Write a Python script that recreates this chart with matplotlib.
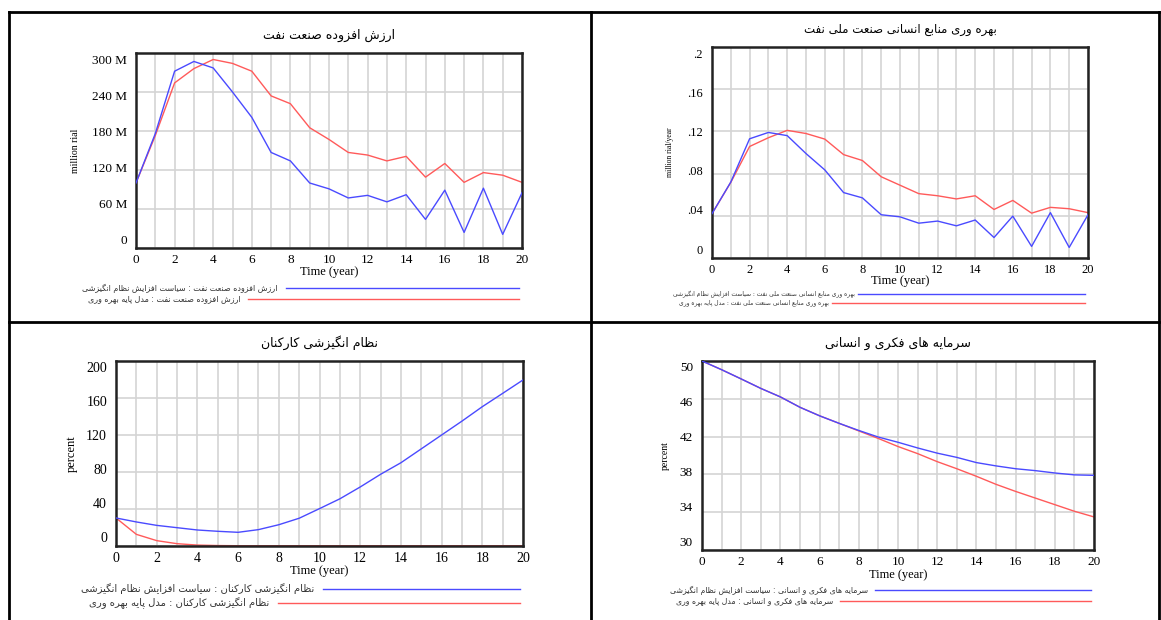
import numpy as np
import matplotlib
matplotlib.use("Agg")
import matplotlib.pyplot as plt
import matplotlib.transforms as mtrans
from matplotlib.lines import Line2D

# ---- data (yearly points) ----
years = np.arange(0, 21)

va_policy = [100, 176, 272, 287, 277, 240, 201, 147, 134, 100, 91, 77, 81, 71, 82, 44, 89, 24, 92, 21, 85]
va_base = [100, 173, 254, 276, 290, 284, 272, 234, 222, 185, 167, 147, 143, 134, 141, 109, 130, 101, 116, 112, 101]

prod_policy = [0.042, 0.072, 0.113, 0.119, 0.116, 0.099, 0.0835, 0.062, 0.057, 0.041, 0.039, 0.033, 0.035,
               0.0305, 0.036, 0.0194, 0.0397, 0.011, 0.043, 0.010, 0.041]
prod_base = [0.042, 0.0717, 0.1057, 0.114, 0.121, 0.118, 0.1127, 0.098, 0.0924, 0.077, 0.069, 0.061, 0.059,
             0.056, 0.059, 0.046, 0.0546, 0.0425, 0.048, 0.0467, 0.043]

motiv_policy = [30.3, 26, 22.3, 19.8, 17.3, 15.9, 14.8, 17.7, 23, 30, 40.4, 51, 63.8, 77.5, 90, 105, 120,
                135, 150.6, 165, 179.5]
motiv_base = [30.3, 12.6, 5.8, 2.5, 1.0, 0.5, 0.3, 0.3, 0.3, 0.3, 0.3, 0.3, 0.3, 0.3, 0.3, 0.3, 0.3, 0.3,
              0.3, 0.3, 0.3]

cap_policy = [50.0, 49.08, 48.1, 47.1, 46.2, 45.1, 44.2, 43.4, 42.65, 41.95, 41.4, 40.8, 40.25, 39.8, 39.25,
              38.9, 38.6, 38.4, 38.15, 37.95, 37.9]
cap_base = [50.0, 49.08, 48.1, 47.1, 46.2, 45.1, 44.2, 43.4, 42.6, 41.8, 40.95, 40.2, 39.35, 38.6, 37.8,
            36.95, 36.2, 35.5, 34.8, 34.1, 33.5]

va_ticks = [0, 60, 120, 180, 240, 300]
va_labels = ["0", "60 M", "120 M", "180 M", "240 M", "300 M"]
prod_ticks = [0, 0.04, 0.08, 0.12, 0.16, 0.2]
prod_labels = ["0", ".04", ".08", ".12", ".16", ".2"]
motiv_ticks = [0, 40, 80, 120, 160, 200]
cap_ticks = [30, 34, 38, 42, 46, 50]

t_va = "ارزش افزوده صنعت نفت"
t_prod = "بهره وری منابع انسانی صنعت ملی نفت"
t_motiv = "نظام انگیزشی کارکنان"
t_cap = "سرمایه های فکری و انسانی"
s_policy = "سیاست افزایش نظام انگیزشی"
s_base = "مدل پایه بهره وری"

# ---- minimal persian shaping (matplotlib has no complex text layout) ----
FORMS = {
    'ا': (0xFE8D, 0xFE8E, None, None), 'ب': (0xFE8F, 0xFE90, 0xFE91, 0xFE92),
    'پ': (0xFB56, 0xFB57, 0xFB58, 0xFB59), 'ت': (0xFE95, 0xFE96, 0xFE97, 0xFE98),
    'د': (0xFEA9, 0xFEAA, None, None), 'ر': (0xFEAD, 0xFEAE, None, None),
    'ز': (0xFEAF, 0xFEB0, None, None), 'س': (0xFEB1, 0xFEB2, 0xFEB3, 0xFEB4),
    'ش': (0xFEB5, 0xFEB6, 0xFEB7, 0xFEB8), 'ص': (0xFEB9, 0xFEBA, 0xFEBB, 0xFEBC),
    'ظ': (0xFEC5, 0xFEC6, 0xFEC7, 0xFEC8), 'ع': (0xFEC9, 0xFECA, 0xFECB, 0xFECC),
    'ف': (0xFED1, 0xFED2, 0xFED3, 0xFED4), 'ک': (0xFB8E, 0xFB8F, 0xFB90, 0xFB91),
    'گ': (0xFB92, 0xFB93, 0xFB94, 0xFB95), 'ل': (0xFEDD, 0xFEDE, 0xFEDF, 0xFEE0),
    'م': (0xFEE1, 0xFEE2, 0xFEE3, 0xFEE4), 'ن': (0xFEE5, 0xFEE6, 0xFEE7, 0xFEE8),
    'ه': (0xFEE9, 0xFEEA, 0xFEEB, 0xFEEC), 'و': (0xFEED, 0xFEEE, None, None),
    'ی': (0xFBFC, 0xFBFD, 0xFBFE, 0xFBFF),
}


def fa(text):
    out = []
    for i, ch in enumerate(text):
        if ch not in FORMS:
            out.append(ch)
            continue
        iso, fin, ini, med = FORMS[ch]
        prev = text[i - 1] if i > 0 else ''
        nxt = text[i + 1] if i + 1 < len(text) else ''
        jp = prev in FORMS and FORMS[prev][2] is not None
        jn = nxt in FORMS and ini is not None
        if jp and jn:
            c = med
        elif jp:
            c = fin
        elif jn:
            c = ini
        else:
            c = iso
        out.append(chr(c))
    return ''.join(reversed(out))


W, H = 1161, 620
BLUE = "#4a4aff"
RED = "#ff5a5a"
SERIF = "Liberation Serif"
FA = ["DejaVu Sans"]

fig = plt.figure(figsize=(W / 100, H / 100), dpi=100)


def fx(x):
    return x / W


def fy(y):
    return 1 - y / H


def panel(box, blue, red, ylim, ticks, labels, title, ylabel, ylab_x, tick_fs, title_fs, ylab_fs,
          xlab_y, leg, leg_fs):
    l, t, r, b = box
    ax = fig.add_axes([fx(l), fy(b), (r - l) / W, (b - t) / H])
    ax.plot(years, blue, color=BLUE, lw=1.0, zorder=3)
    ax.plot(years, red, color=RED, lw=1.0, zorder=2)
    ax.set_xlim(0, 20)
    ax.set_ylim(*ylim)
    ax.set_xticks(range(0, 21, 2))
    ax.set_xticks(range(0, 21), minor=True)
    ax.set_yticks(ticks)
    ax.set_yticklabels([])
    ax.grid(True, which="both", axis="x", color="#d4d4d4", lw=1.2)
    ax.grid(True, axis="y", color="#d4d4d4", lw=1.2)
    ax.set_axisbelow(True)
    ax.tick_params(which="both", length=0, labelsize=tick_fs, pad=4)
    for lab in ax.get_xticklabels():
        lab.set_fontfamily(SERIF)
    # y labels squeezed toward the middle, the way the simulation tool prints them
    for v, s in zip(ticks, labels):
        frac = (v - ylim[0]) / (ylim[1] - ylim[0])
        off = mtrans.ScaledTranslation(-0.09, (0.5 - frac) * 0.15, fig.dpi_scale_trans)
        ax.text(0, v, s, transform=ax.get_yaxis_transform() + off, family=SERIF,
                fontsize=tick_fs, ha="right", va="center")
    for sp in ax.spines.values():
        sp.set_linewidth(1.8)
        sp.set_color("#222222")
    fig.text(fx((l + r) / 2), fy(t - 18), fa(title), family=FA, fontsize=title_fs,
             ha="center", va="center")
    fig.text(fx(ylab_x), fy((t + b) / 2), ylabel, family=SERIF, fontsize=ylab_fs,
             rotation=90, ha="center", va="center")
    fig.text(fx((l + r) / 2), fy(xlab_y), "Time (year)", family=SERIF, fontsize=9,
             ha="center", va="center")
    # legend drawn like the source tool: text, then a long line to the right
    for (txt, col, x_txt, x_line, y) in leg:
        fig.text(fx(x_txt), fy(y), fa(txt), family=FA, fontsize=leg_fs, color="#333333",
                 ha="right", va="center")
        fig.add_artist(Line2D([fx(x_line), fx(r - 3)], [fy(y), fy(y)], color=col, lw=1.0))
    return ax


panel((136, 53, 522, 248), va_policy, va_base, (0, 300), va_ticks, va_labels,
      t_va, "million rial", 75, 9.5, 9, 7, 272,
      [(t_va + " : " + s_policy, BLUE, 278, 286, 288),
       (t_va + " : " + s_base, RED, 241, 248, 299)], 5.8)

panel((712, 47, 1088, 258), prod_policy, prod_base, (0, 0.2), prod_ticks, prod_labels,
      t_prod, "million rial/year", 670, 9, 8.5, 5.5, 281,
      [(t_prod + " : " + s_policy, BLUE, 855, 858, 294),
       (t_prod + " : " + s_base, RED, 829, 832, 303)], 4.3)

panel((116, 361, 523, 546), motiv_policy, motiv_base, (0, 200), motiv_ticks,
      [str(v) for v in motiv_ticks], t_motiv, "percent", 72, 10, 9, 9, 571,
      [(t_motiv + " : " + s_policy, BLUE, 314, 323, 589),
       (t_motiv + " : " + s_base, RED, 269, 278, 603)], 7.2)

panel((702, 361, 1094, 550), cap_policy, cap_base, (30, 50), cap_ticks,
      [str(v) for v in cap_ticks], t_cap, "percent", 665, 9.5, 9, 7, 575,
      [(t_cap + " : " + s_policy, BLUE, 868, 875, 590),
       (t_cap + " : " + s_base, RED, 833, 840, 601)], 5.6)

# table borders around the four cells
for xs, ys in [((9, 1159), (12, 12)), ((9, 1159), (322, 322)), ((9, 9), (12, 620)),
               ((591, 591), (12, 620)), ((1159, 1159), (12, 620))]:
    fig.add_artist(Line2D([fx(xs[0]), fx(xs[1])], [fy(ys[0]), fy(ys[1])], color="black", lw=2.0))

fig.savefig("out.png", dpi=100)
